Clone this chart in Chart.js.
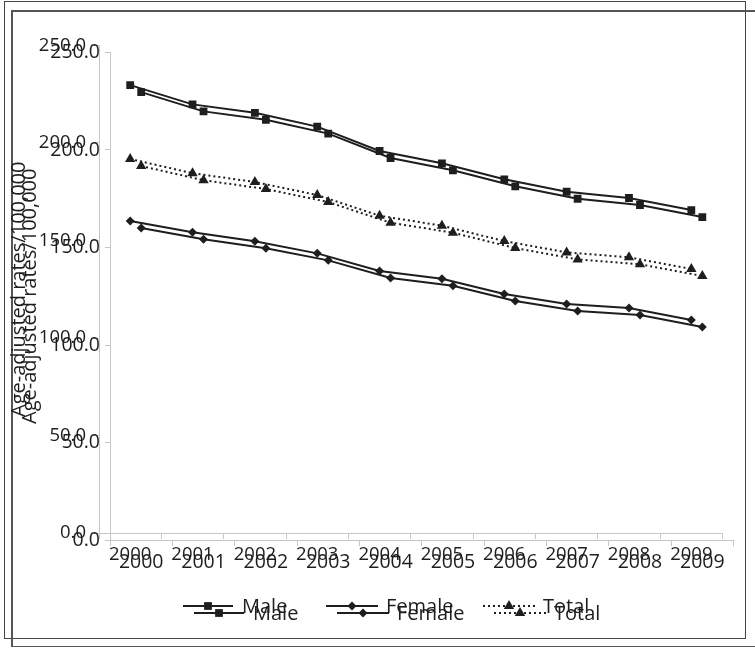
<!DOCTYPE html>
<html>
<head>
<meta charset="utf-8">
<script src="https://cdn.jsdelivr.net/npm/chart.js@4/dist/chart.umd.min.js"></script>
<style>
  html, body { margin: 0; padding: 0; background: #fff; width: 755px; height: 652px; overflow: hidden; position: relative; }
  canvas { position: absolute; }
  #cA { left: 0; top: 0; }
  #cB { left: 11px; top: 7px; }
  .frame { position: absolute; box-sizing: border-box; border: 1px solid #444; }
  #fA { left: 4px; top: 1px; width: 742px; height: 638px; }
  #fB { left: 11px; top: 10px; width: 746px; height: 637px; border-width: 2px 1px 1px 2px; border-color: #555; }
</style>
</head>
<body>
<div class="frame" id="fA"></div>
<div class="frame" id="fB"></div>
<canvas id="cA" width="755" height="652"></canvas>
<canvas id="cB" width="755" height="652"></canvas>
<script>
const categories = ['2000','2001','2002','2003','2004','2005','2006','2007','2008','2009'];
const maleRates   = [229.7, 219.8, 215.5, 208.4, 195.9, 189.6, 181.4, 175.0, 171.8, 165.6];
const femaleRates = [160.0, 154.2, 149.6, 143.4, 134.4, 130.4, 122.6, 117.4, 115.4, 109.2];
const totalRates  = [191.8, 184.5, 180.0, 173.3, 162.7, 157.6, 149.7, 143.9, 141.4, 135.4];
const yTickValues = [0, 50, 100, 150, 200, 250];
const seriesLabels = ['Male', 'Female', 'Total'];
const yTitle = 'Age-adjusted rates/100,000';

const INK = '#1e1e1e';
const AXIS = '#c6c6c6';
const FONT = "'Open Sans', 'Liberation Sans', sans-serif";

function drawMarker(ctx, style, r, x, y) {
  ctx.beginPath();
  if (style === 'rect') {
    const s = r * Math.SQRT1_2;
    ctx.rect(x - s, y - s, 2 * s, 2 * s);
  } else if (style === 'rectRot') {
    ctx.moveTo(x, y - r); ctx.lineTo(x + r, y); ctx.lineTo(x, y + r); ctx.lineTo(x - r, y); ctx.closePath();
  } else if (style === 'triangle') {
    ctx.moveTo(x, y - r); ctx.lineTo(x + r * 0.866, y + r * 0.5); ctx.lineTo(x - r * 0.866, y + r * 0.5); ctx.closePath();
  }
  ctx.fill();
}

const legendPlugin = {
  id: 'customLegend',
  afterDraw(chart) {
    const ctx = chart.ctx;
    const slots = [ {x0: 183, x1: 233, mx: 208, tx: 242}, {x0: 326, x1: 378, mx: 352, tx: 386}, {x0: 483, x1: 537, mx: 509, tx: 543} ];
    const y = 606;
    ctx.save();
    chart.data.datasets.forEach((ds, i) => {
      const s = slots[i];
      ctx.strokeStyle = ds.borderColor;
      ctx.lineWidth = ds.borderWidth;
      ctx.setLineDash(ds.borderDash || []);
      ctx.beginPath(); ctx.moveTo(s.x0, y); ctx.lineTo(s.x1, y); ctx.stroke();
      ctx.setLineDash([]);
      ctx.fillStyle = ds.pointBackgroundColor;
      drawMarker(ctx, ds.pointStyle, ds.pointRadius, s.mx, y);
      ctx.fillStyle = INK;
      ctx.font = '20px ' + FONT;
      ctx.textBaseline = 'middle';
      ctx.textAlign = 'left';
      ctx.fillText(ds.label, s.tx, y + 1);
    });
    ctx.restore();
  }
};

function makeChart(id, tickSize, yPad, xPad) {
  return new Chart(document.getElementById(id), {
    type: 'line',
    data: {
      labels: categories,
      datasets: [
        { label: seriesLabels[0], data: maleRates, borderColor: INK, borderWidth: 2, pointStyle: 'rect', pointRadius: 5.5, pointBackgroundColor: INK, pointBorderWidth: 0, tension: 0 },
        { label: seriesLabels[1], data: femaleRates, borderColor: INK, borderWidth: 2, pointStyle: 'rectRot', pointRadius: 4.5, pointBackgroundColor: INK, pointBorderWidth: 0, tension: 0 },
        { label: seriesLabels[2], data: totalRates, borderColor: INK, borderWidth: 2, borderDash: [2, 3], pointStyle: 'triangle', pointRadius: 6, pointBackgroundColor: INK, pointBorderWidth: 0, tension: 0 }
      ]
    },
    options: {
      responsive: false,
      animation: false,
      devicePixelRatio: 1,
      layout: { padding: { left: 0, right: 32.5, top: 45.5, bottom: 59 } },
      plugins: { legend: { display: false }, tooltip: { enabled: false } },
      scales: {
        x: {
          type: 'category',
          offset: true,
          afterFit(s) { s.height = 60; },
          grid: { display: true, offset: true, drawOnChartArea: false, drawTicks: true, tickLength: 6, color: AXIS },
          border: { display: true, color: AXIS, width: 1 },
          ticks: { color: INK, font: { family: FONT, size: tickSize }, padding: xPad, maxRotation: 0, autoSkip: false }
        },
        y: {
          min: 0, max: 250,
          afterFit(s) { s.width = 99; },
          afterBuildTicks(s) { s.ticks = yTickValues.map(v => ({ value: v })); },
          grid: { display: true, drawOnChartArea: false, drawTicks: true, tickLength: 5, color: AXIS },
          border: { display: true, color: AXIS, width: 1 },
          ticks: { color: INK, font: { family: FONT, size: tickSize }, padding: yPad, callback: v => Number(v).toFixed(1) },
          title: { display: true, text: yTitle, color: INK, font: { family: FONT, size: 20 }, padding: { top: 7, bottom: 0 } }
        }
      }
    },
    plugins: [legendPlugin]
  });
}

makeChart('cA', 18.5, 8, 5);
makeChart('cB', 19.5, 5, 5);
</script>
</body>
</html>
